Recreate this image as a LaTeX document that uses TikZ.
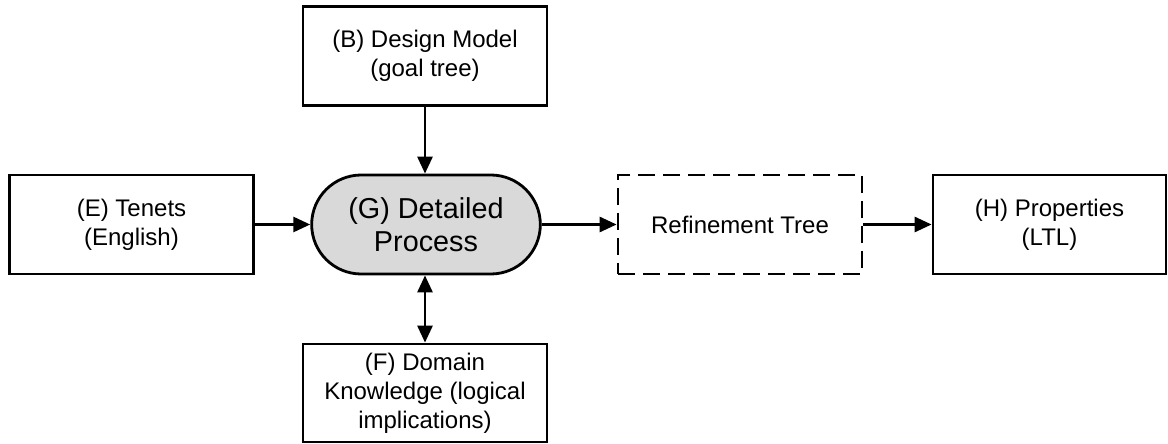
\documentclass[tikz,border=0pt]{standalone}
\usepackage{fontspec}
\setmainfont{Liberation Sans}
\usepackage{tikz}
\usetikzlibrary{positioning, shapes.misc, arrows.meta}
\definecolor{procgray}{HTML}{D9D9D9}
\tikzstyle{box} = [draw, line width=1.4pt, minimum width=122pt, minimum height=49.5pt, align=center, inner sep=2pt, font=\fontsize{12}{14.5}\selectfont]
\tikzstyle{procbox} = [draw, line width=1.4pt, fill=procgray, rounded rectangle, minimum width=121pt, minimum height=49.5pt, align=center, font=\fontsize{14.4}{16.5}\selectfont]
\tikzstyle{dashbox} = [box, dash pattern=on 8.5pt off 4pt]
\tikzstyle{arrow} = [line width=1.4pt,-{Triangle[length=8.5pt,width=7.5pt]}]
\tikzstyle{darrow} = [line width=1.4pt,{Triangle[length=8.5pt,width=7.5pt]}-{Triangle[length=8.5pt,width=7.5pt]}]

\begin{document}
\begin{tikzpicture}[x=0.5pt,y=-0.5pt]
        \useasboundingbox (0,0) rectangle (1168,444);
        \node[box] (design) at (425,56) {(B) Design Model\\(goal tree)};
        \node[box] (tenets) at (131.5,224.5) {(E) Tenets\\(English)};
        \node[procbox] (process) at (426,224.5) {(G) Detailed\\Process};
        \node[dashbox] (refine) at (740,224.5) {Refinement Tree};
        \node[box, minimum width=116.5pt] (props) at (1049.5,224.5) {(H) Properties\\(LTL)};
        \node[box, minimum height=49pt] (domain) at (425,393) {(F) Domain\\Knowledge (logical\\implications)};
        \draw[arrow] (design) -- (design |- process.north);
        \draw[arrow] (tenets) -- (process);
        \draw[arrow] (process) -- (refine);
        \draw[arrow] (refine) -- (props);
        \draw[darrow] (domain.north) -- (domain |- process.south);
\end{tikzpicture}
\end{document}
